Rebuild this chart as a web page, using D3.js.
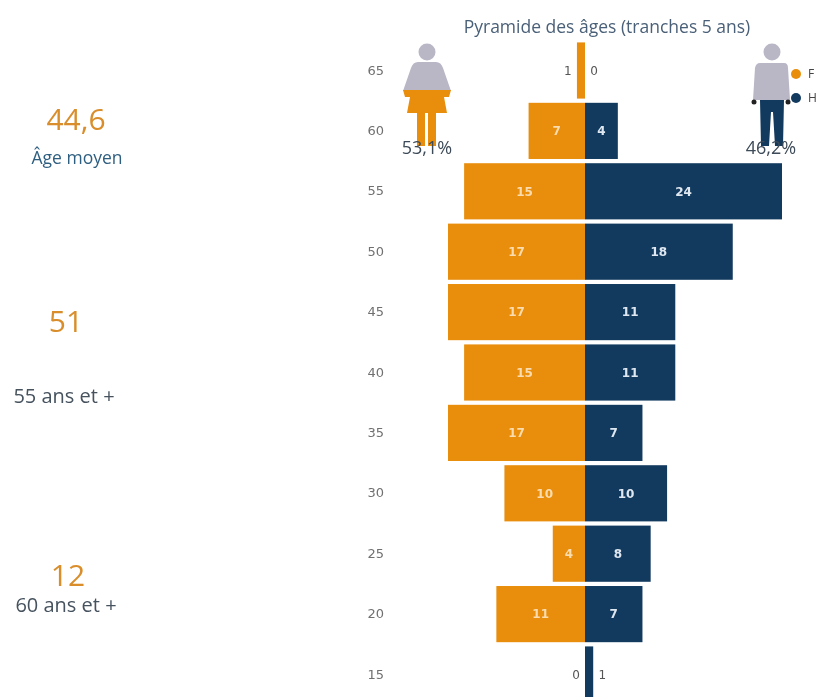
<!DOCTYPE html>
<html>
<head>
<meta charset="utf-8">
<script src="https://cdn.jsdelivr.net/npm/d3@7"></script>
<style>
  html, body { margin: 0; padding: 0; background: #fff; overflow: hidden; }
  svg { display: block; filter: blur(0.6px); }
</style>
</head>
<body>
<svg id="pyramide"></svg>
<script>
var ages = [65, 60, 55, 50, 45, 40, 35, 30, 25, 20, 15];
var femmes = [1, 7, 15, 17, 17, 15, 17, 10, 4, 11, 0];
var hommes = [0, 4, 24, 18, 11, 11, 7, 10, 8, 7, 1];

var kpiValues = ['44,6', '51', '12'];
var kpiLabels = ['Âge moyen', '55 ans et +', '60 ans et +'];
var genderShares = ['53,1%', '46,2%'];
var legendLabels = ['F', 'H'];
var title = 'Pyramide des âges (tranches 5 ans)';

var orange = '#e88e0c', navy = '#123a5f', silhouette = '#b9b6c6';
var font = '"Open Sans", sans-serif';
var tickFont = '"DejaVu Sans", sans-serif';

var width = 819, height = 697;
var svg = d3.select('#pyramide').attr('width', width).attr('height', height);

var center = 585;
var xFemmes = d3.scaleLinear().domain([0, 17]).range([0, 137]);
var xHommes = d3.scaleLinear().domain([0, 24]).range([0, 197]);
var yScale = d3.scaleBand()
    .domain(ages)
    .range([40.3, 704.7])
    .paddingInner(0.07)
    .paddingOuter(0.035);

// axe des ages
var yaxis = svg.append('g')
    .attr('transform', 'translate(384,0)')
    .call(d3.axisLeft(yScale).tickSize(0).tickPadding(0));
yaxis.select('.domain').remove();
yaxis.selectAll('text')
    .style('font-family', tickFont)
    .style('font-size', '13px')
    .style('fill', '#707070');

var rows = ages.map(function (a, i) { return {age: a, f: femmes[i], h: hommes[i]}; });

svg.append('g').selectAll('rect')
    .data(rows)
    .enter()
    .append('rect')
    .attr('x', d => center - xFemmes(d.f))
    .attr('y', d => yScale(d.age))
    .attr('width', d => xFemmes(d.f))
    .attr('height', yScale.bandwidth())
    .style('fill', orange);

svg.append('g').selectAll('rect')
    .data(rows)
    .enter()
    .append('rect')
    .attr('x', center)
    .attr('y', d => yScale(d.age))
    .attr('width', d => xHommes(d.h))
    .attr('height', yScale.bandwidth())
    .style('fill', navy);

// valeurs : dans la barre, ou a cote quand la barre est trop fine
function valueLabels(key, side, scale) {
    svg.append('g').selectAll('text')
        .data(rows)
        .enter()
        .append('text')
        .attr('x', function (d) {
            var w = scale(d[key]);
            if (d[key] > 1) return center + side * w / 2;
            return center + side * (w + 9);
        })
        .attr('y', d => yScale(d.age) + yScale.bandwidth() / 2)
        .attr('dy', '0.35em')
        .attr('text-anchor', 'middle')
        .style('font-family', tickFont)
        .style('font-size', '12px')
        .style('font-weight', d => d[key] > 1 ? 'bold' : 'normal')
        .style('fill', function (d) {
            if (d[key] <= 1) return '#555';
            return key == 'f' ? '#fbdcae' : '#dfe7f0';
        })
        .text(d => d[key]);
}
valueLabels('f', -1, xFemmes);
valueLabels('h', 1, xHommes);

svg.append('text')
    .attr('x', 607)
    .attr('y', 33)
    .attr('text-anchor', 'middle')
    .style('font-family', font)
    .style('font-size', '17.5px')
    .style('fill', '#4a6078')
    .text(title);

// silhouette femme
var woman = svg.append('g');
woman.append('circle').attr('cx', 427).attr('cy', 52).attr('r', 8.5).style('fill', silhouette);
woman.append('path').attr('d', 'M418,62 L436,62 Q441,62 443,68 L451,91 L403,91 L411,68 Q413,62 418,62 Z').style('fill', silhouette);
woman.append('path').attr('d', 'M403,90 L451,90 L449,97 L444,97 L447,113 L407,113 L410,97 L405,97 Z').style('fill', orange);
woman.append('rect').attr('x', 417).attr('y', 113).attr('width', 8).attr('height', 33).style('fill', orange);
woman.append('rect').attr('x', 428).attr('y', 113).attr('width', 8).attr('height', 33).style('fill', orange);

// silhouette homme
var man = svg.append('g');
man.append('circle').attr('cx', 772).attr('cy', 52).attr('r', 8.5).style('fill', silhouette);
man.append('path').attr('d', 'M760,63 L784,63 Q788,63 788,68 L790,100 L784,100 L784,101 L760,101 L760,100 L753,100 L755,68 Q756,63 760,63 Z').style('fill', silhouette);
man.append('path').attr('d', 'M760,100 L784,100 L783,146 L775,146 L773,112 L771,112 L769,146 L761,146 Z').style('fill', navy);
man.append('circle').attr('cx', 754).attr('cy', 102).attr('r', 2.5).style('fill', '#222');
man.append('circle').attr('cx', 788).attr('cy', 102).attr('r', 2.5).style('fill', '#222');

// pourcentages
svg.append('g').selectAll('text')
    .data(genderShares)
    .enter()
    .append('text')
    .attr('x', (d, i) => i == 0 ? 427 : 771)
    .attr('y', 154)
    .attr('text-anchor', 'middle')
    .style('font-family', font)
    .style('font-size', '18px')
    .style('fill', '#3d4a57')
    .text(d => d);

// legende
var legend = svg.append('g').selectAll('g')
    .data(legendLabels)
    .enter()
    .append('g')
    .attr('transform', (d, i) => 'translate(796,' + (i == 0 ? 74 : 98) + ')');
legend.append('circle')
    .attr('r', 5)
    .style('fill', (d, i) => i == 0 ? orange : navy);
legend.append('text')
    .attr('x', 12)
    .attr('dy', '0.35em')
    .style('font-family', font)
    .style('font-size', '12px')
    .style('fill', '#444')
    .text(d => d);

// indicateurs de gauche
var kpiX = [76, 66, 68];
var labelX = [77, 64, 66];
var kpiValueY = [130, 332, 586];
var kpiLabelY = [164, 403, 612];
svg.append('g').selectAll('text')
    .data(kpiValues)
    .enter()
    .append('text')
    .attr('x', (d, i) => kpiX[i])
    .attr('y', (d, i) => kpiValueY[i])
    .attr('text-anchor', 'middle')
    .style('font-family', font)
    .style('font-size', '30px')
    .style('fill', '#d98e2b')
    .text(d => d);
svg.append('g').selectAll('text')
    .data(kpiLabels)
    .enter()
    .append('text')
    .attr('x', (d, i) => labelX[i])
    .attr('y', (d, i) => kpiLabelY[i])
    .attr('text-anchor', 'middle')
    .style('font-family', font)
    .style('font-size', (d, i) => i == 0 ? '17.5px' : '20px')
    .style('fill', (d, i) => i == 0 ? '#2f5f80' : '#46525e')
    .text(d => d);
</script>
</body>
</html>
